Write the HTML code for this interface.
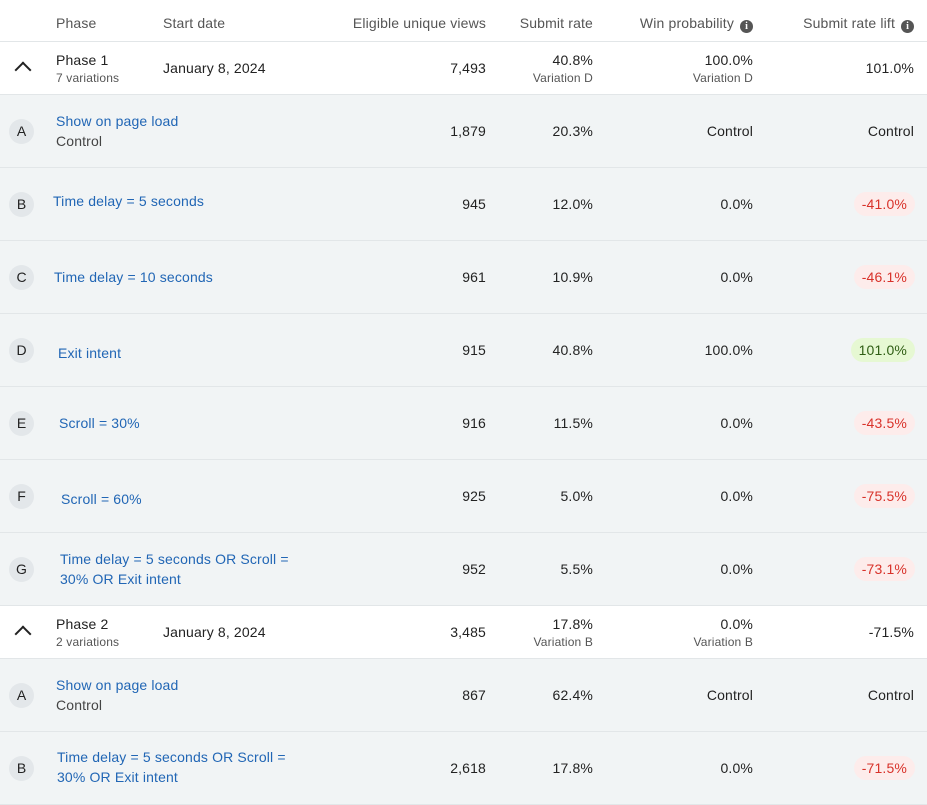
<!DOCTYPE html>
<html><head><meta charset="utf-8"><style>
*{margin:0;padding:0;box-sizing:border-box}
body{width:927px;height:792px;overflow:hidden;background:#fff;font-family:"Liberation Sans",Arial,sans-serif;color:#222;font-size:14px;position:relative;letter-spacing:0.15px}
.a{position:absolute;white-space:nowrap;line-height:20px}
.r{text-align:right}
.h{color:#555;font-size:14px}
.sub{font-size:12px;color:#555;line-height:14px}
.row{position:absolute;left:0;width:927px;border-bottom:1px solid #e2e6e8}
.v{background:#f1f4f5}
.w{background:#fff}
.c{position:absolute;left:9px;width:25px;height:25px;border-radius:50%;background:#e3e7ea;text-align:center;line-height:25px;font-size:14px;color:#222;letter-spacing:0}
.lk{color:#2166b5}
.b{position:absolute;right:12px;height:24px;line-height:24px;border-radius:12px;padding:0 8px;font-size:14px}
.red{background:#fdeceb;color:#d8322a}
.grn{background:#e6f8d3;color:#2f5e14}
.i{display:inline-block;width:13px;height:13px;border-radius:50%;background:#555;color:#fff;font-size:10px;line-height:13px;text-align:center;font-weight:bold;vertical-align:-1px;margin-left:6px;letter-spacing:0;font-family:"Liberation Serif",serif}
.chev{position:absolute;left:17px;width:12px;height:12px;border-left:2px solid #222;border-top:2px solid #222;transform:rotate(45deg)}
</style></head><body>
<div class="row w" style="top:0;height:42px"></div>
<div class="a h" style="left:56px;top:13px">Phase</div>
<div class="a h" style="left:163px;top:13px">Start date</div>
<div class="a h r" style="right:441px;top:13px">Eligible unique views</div>
<div class="a h r" style="right:334px;top:13px">Submit rate</div>
<div class="a h r" style="right:174px;top:13px">Win probability<span class="i">i</span></div>
<div class="a h r" style="right:13px;top:13px">Submit rate lift<span class="i">i</span></div>

<div class="row w" style="top:42px;height:53px"></div>
<div class="chev" style="top:64px"></div>
<div class="a" style="left:56px;top:50px">Phase 1</div>
<div class="a sub" style="left:56px;top:71px">7 variations</div>
<div class="a" style="left:163px;top:58px">January 8, 2024</div>
<div class="a r" style="right:441px;top:58px">7,493</div>
<div class="a r" style="right:334px;top:50px">40.8%</div>
<div class="a sub r" style="right:334px;top:71px">Variation D</div>
<div class="a r" style="right:174px;top:50px">100.0%</div>
<div class="a sub r" style="right:174px;top:71px">Variation D</div>
<div class="a r" style="right:13px;top:58px">101.0%</div>

<div class="row v" style="top:95px;height:73px"></div>
<div class="c" style="top:119px">A</div>
<div class="a lk" style="left:56px;top:111px">Show on page load</div>
<div class="a" style="left:56px;top:131px;color:#444">Control</div>
<div class="a r" style="right:441px;top:121px">1,879</div>
<div class="a r" style="right:334px;top:121px">20.3%</div>
<div class="a r" style="right:174px;top:121px">Control</div>
<div class="a r" style="right:13px;top:121px">Control</div>

<div class="row v" style="top:168px;height:73px"></div>
<div class="c" style="top:192px">B</div>
<div class="a lk" style="left:53px;top:191px">Time delay = 5 seconds</div>
<div class="a r" style="right:441px;top:194px">945</div>
<div class="a r" style="right:334px;top:194px">12.0%</div>
<div class="a r" style="right:174px;top:194px">0.0%</div>
<div class="b red" style="top:192px">-41.0%</div>

<div class="row v" style="top:241px;height:73px"></div>
<div class="c" style="top:265px">C</div>
<div class="a lk" style="left:54px;top:267px">Time delay = 10 seconds</div>
<div class="a r" style="right:441px;top:267px">961</div>
<div class="a r" style="right:334px;top:267px">10.9%</div>
<div class="a r" style="right:174px;top:267px">0.0%</div>
<div class="b red" style="top:265px">-46.1%</div>

<div class="row v" style="top:314px;height:73px"></div>
<div class="c" style="top:338px">D</div>
<div class="a lk" style="left:58px;top:343px">Exit intent</div>
<div class="a r" style="right:441px;top:340px">915</div>
<div class="a r" style="right:334px;top:340px">40.8%</div>
<div class="a r" style="right:174px;top:340px">100.0%</div>
<div class="b grn" style="top:338px">101.0%</div>

<div class="row v" style="top:387px;height:73px"></div>
<div class="c" style="top:411px">E</div>
<div class="a lk" style="left:59px;top:413px">Scroll = 30%</div>
<div class="a r" style="right:441px;top:413px">916</div>
<div class="a r" style="right:334px;top:413px">11.5%</div>
<div class="a r" style="right:174px;top:413px">0.0%</div>
<div class="b red" style="top:411px">-43.5%</div>

<div class="row v" style="top:460px;height:73px"></div>
<div class="c" style="top:484px">F</div>
<div class="a lk" style="left:61px;top:489px">Scroll = 60%</div>
<div class="a r" style="right:441px;top:486px">925</div>
<div class="a r" style="right:334px;top:486px">5.0%</div>
<div class="a r" style="right:174px;top:486px">0.0%</div>
<div class="b red" style="top:484px">-75.5%</div>

<div class="row v" style="top:533px;height:73px"></div>
<div class="c" style="top:557px">G</div>
<div class="a lk" style="left:60px;top:549px">Time delay = 5 seconds OR Scroll =</div>
<div class="a lk" style="left:60px;top:569px">30% OR Exit intent</div>
<div class="a r" style="right:441px;top:559px">952</div>
<div class="a r" style="right:334px;top:559px">5.5%</div>
<div class="a r" style="right:174px;top:559px">0.0%</div>
<div class="b red" style="top:557px">-73.1%</div>

<div class="row w" style="top:606px;height:53px"></div>
<div class="chev" style="top:628px"></div>
<div class="a" style="left:56px;top:614px">Phase 2</div>
<div class="a sub" style="left:56px;top:635px">2 variations</div>
<div class="a" style="left:163px;top:622px">January 8, 2024</div>
<div class="a r" style="right:441px;top:622px">3,485</div>
<div class="a r" style="right:334px;top:614px">17.8%</div>
<div class="a sub r" style="right:334px;top:635px">Variation B</div>
<div class="a r" style="right:174px;top:614px">0.0%</div>
<div class="a sub r" style="right:174px;top:635px">Variation B</div>
<div class="a r" style="right:13px;top:622px">-71.5%</div>

<div class="row v" style="top:659px;height:73px"></div>
<div class="c" style="top:683px">A</div>
<div class="a lk" style="left:56px;top:675px">Show on page load</div>
<div class="a" style="left:56px;top:695px;color:#444">Control</div>
<div class="a r" style="right:441px;top:685px">867</div>
<div class="a r" style="right:334px;top:685px">62.4%</div>
<div class="a r" style="right:174px;top:685px">Control</div>
<div class="a r" style="right:13px;top:685px">Control</div>

<div class="row v" style="top:732px;height:73px"></div>
<div class="c" style="top:756px">B</div>
<div class="a lk" style="left:57px;top:747px">Time delay = 5 seconds OR Scroll =</div>
<div class="a lk" style="left:57px;top:767px">30% OR Exit intent</div>
<div class="a r" style="right:441px;top:758px">2,618</div>
<div class="a r" style="right:334px;top:758px">17.8%</div>
<div class="a r" style="right:174px;top:758px">0.0%</div>
<div class="b red" style="top:756px">-71.5%</div>
</body></html>
